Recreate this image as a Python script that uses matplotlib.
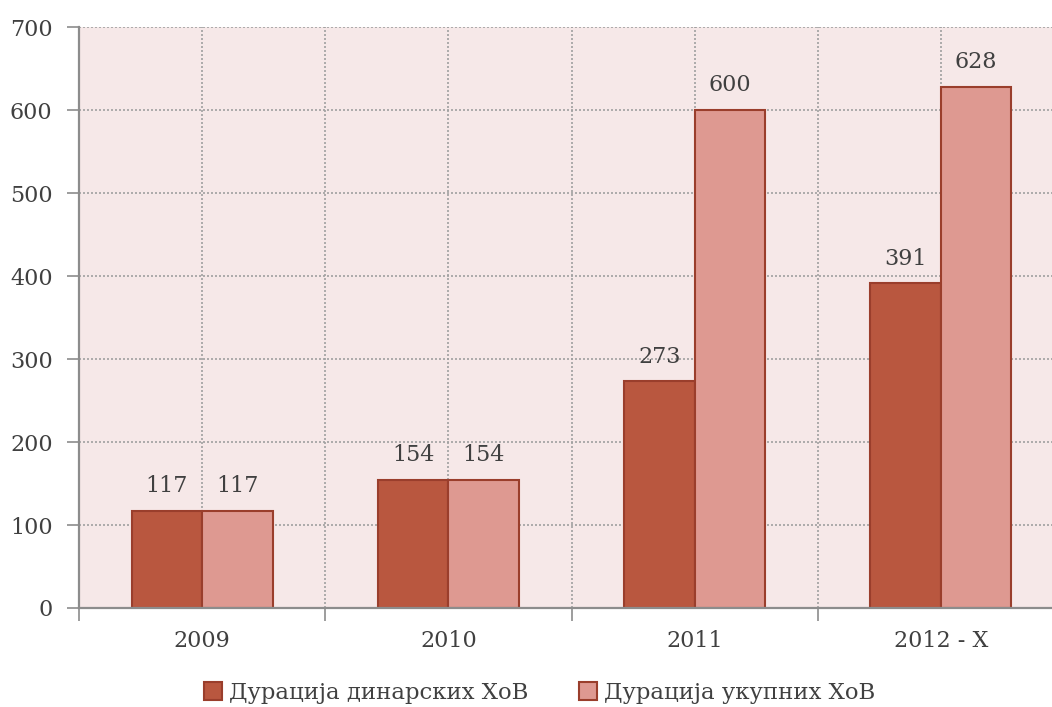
import matplotlib
matplotlib.use("Agg")
import matplotlib.pyplot as plt
from matplotlib.patches import Patch
import numpy as np

categories = ["2009", "2010", "2011", "2012 - X"]
dinar = [117, 154, 273, 391]
total = [117, 154, 600, 628]
series_names = ["Дурација динарских ХоВ", "Дурација укупних ХоВ"]
yticks = [0, 100, 200, 300, 400, 500, 600, 700]

plt.rcParams['font.family'] = ['DejaVu Serif', 'Liberation Serif']
text_color = '#404040'
c_dark = '#B9573F'
c_light = '#DE9991'
c_edge = '#9A3E2C'
bg = '#F6E8E8'
grid_c = '#A0A0A0'
axis_c = '#8C8C8C'

fig = plt.figure(figsize=(10.52, 7.07), dpi=100)
ax = fig.add_axes([79/1052, 1-608/707, (1064-79)/1052, (608-27)/707])
ax.set_facecolor(bg)

x = np.arange(len(categories))
w = 0.286
b1 = ax.bar(x - w/2, dinar, w, color=c_dark, edgecolor=c_edge, linewidth=1.5, zorder=3)
b2 = ax.bar(x + w/2, total, w, color=c_light, edgecolor=c_edge, linewidth=1.5, zorder=3)

fs = 16
for rects, vals in ((b1, dinar), (b2, total)):
    for r, v in zip(rects, vals):
        ax.annotate(str(v), (r.get_x() + r.get_width()/2, v), xytext=(0, 10),
                    textcoords='offset points', ha='center', va='bottom',
                    fontsize=fs, color=text_color)

ax.set_xlim(-0.5, len(categories) - 0.5)
ax.set_ylim(0, 700)
ax.set_yticks(yticks)
ax.set_yticklabels([str(t) for t in yticks], fontsize=fs, color=text_color)
ax.set_xticks(np.arange(-0.5, len(categories), 1.0))
ax.set_xticklabels([])
ax.set_xticks(x, minor=True)
ax.set_xticklabels(categories, minor=True, fontsize=fs, color=text_color)
ax.tick_params(axis='x', which='minor', length=0, pad=16)
ax.tick_params(axis='x', which='major', length=9, width=1.2, color=axis_c, direction='out')
ax.tick_params(axis='y', length=9, width=1.2, color=axis_c, direction='out', pad=10)

ax.grid(True, which='both', axis='x', color=grid_c, linestyle=(0, (1.2, 1.2)), linewidth=1.2, zorder=0)
ax.grid(True, which='major', axis='y', color=grid_c, linestyle=(0, (1.2, 1.2)), linewidth=1.2, zorder=0)
ax.set_axisbelow(True)

for s in ('top', 'right'):
    ax.spines[s].set_visible(False)
for s in ('left', 'bottom'):
    ax.spines[s].set_color(axis_c)
    ax.spines[s].set_linewidth(1.6)
    ax.spines[s].set_zorder(4)

handles = [Patch(facecolor=c_dark, edgecolor=c_edge, linewidth=1.5),
           Patch(facecolor=c_light, edgecolor=c_edge, linewidth=1.5)]
leg = fig.legend(handles, series_names, loc='center', bbox_to_anchor=(0.513, 0.02),
                 ncol=2, frameon=False, fontsize=16.4, handlelength=0.8, handleheight=0.8,
                 handletextpad=0.3, columnspacing=2.2, labelcolor=text_color)

fig.savefig("out.png", dpi=100)
